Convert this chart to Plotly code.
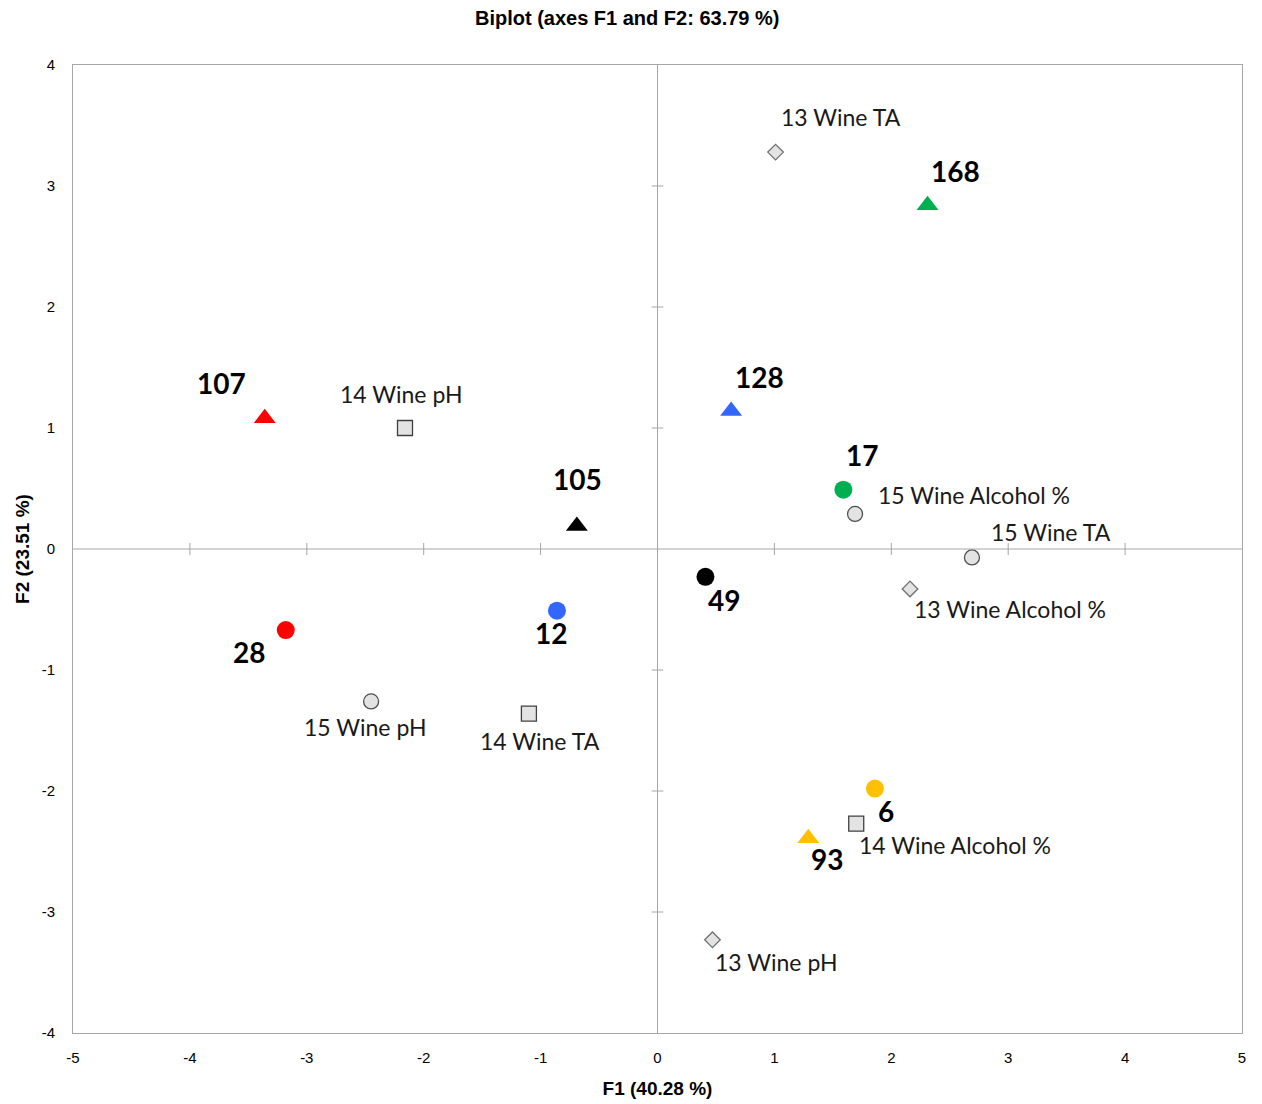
import plotly.graph_objects as go

# Observations (sample scores on F1/F2)
sample_ids = ["107", "105", "128", "168", "17", "49", "12", "28", "6", "93"]
sample_f1 = [-3.36, -0.69, 0.63, 2.31, 1.59, 0.41, -0.86, -3.18, 1.86, 1.29]
sample_f2 = [1.08, 0.19, 1.14, 2.84, 0.49, -0.23, -0.51, -0.67, -1.98, -2.39]
sample_shape = ["triangle-up", "triangle-up", "triangle-up", "triangle-up", "circle",
                "circle", "circle", "circle", "circle", "triangle-up"]
sample_color = ["#ff0000", "#000000", "#3366ff", "#00b050", "#00b050",
                "#000000", "#3366ff", "#ff0000", "#ffc000", "#ffc000"]

# Variables (loadings on F1/F2)
var_names = ["14 Wine pH", "13 Wine TA", "15 Wine Alcohol %", "15 Wine TA",
             "13 Wine Alcohol %", "15 Wine pH", "14 Wine TA", "14 Wine Alcohol %",
             "13 Wine pH"]
var_f1 = [-2.16, 1.01, 1.69, 2.69, 2.16, -2.45, -1.10, 1.70, 0.47]
var_f2 = [1.00, 3.28, 0.29, -0.07, -0.33, -1.26, -1.36, -2.27, -3.23]

x_ticks = [-5, -4, -3, -2, -1, 0, 1, 2, 3, 4, 5]
y_ticks = [-4, -3, -2, -1, 0, 1, 2, 3, 4]

# Label placement (pixel offsets from each marker, anchor side)
sample_label_pos = {
    "107": (-43, 35, "center"), "105": (1, 47, "center"), "128": (28, 34, "center"),
    "168": (28, 34, "center"), "17": (19, 35, "center"), "49": (19, -23, "center"),
    "12": (-6, -22, "center"), "28": (-37, -22, "center"), "6": (11, -22, "center"),
    "93": (19, -21, "center"),
}
var_label_pos = {
    "14 Wine pH": (-4, 34, "center"), "13 Wine TA": (65, 35, "center"),
    "15 Wine Alcohol %": (21, 19, "left"), "15 Wine TA": (17, 25, "left"),
    "13 Wine Alcohol %": (2, -20, "left"), "15 Wine pH": (-6, -26, "center"),
    "14 Wine TA": (11, -27, "center"), "14 Wine Alcohol %": (1, -21, "left"),
    "13 Wine pH": (1, -22, "left"),
}


def var_symbol(name):
    if name.startswith("13"):
        return "diamond"
    if name.startswith("14"):
        return "square"
    return "circle"


def var_size(name):
    return {"diamond": 12, "square": 15, "circle": 15}[var_symbol(name)]


def var_line(name):
    return {"diamond": "#707070", "square": "#404040", "circle": "#505050"}[var_symbol(name)]


fig = go.Figure()

fig.add_trace(go.Scatter(
    x=var_f1, y=var_f2, mode="markers",
    marker=dict(symbol=[var_symbol(n) for n in var_names],
                size=[var_size(n) for n in var_names],
                color="#e3e3e3", opacity=1,
                line=dict(color=[var_line(n) for n in var_names], width=1.3)),
    hoverinfo="text", text=var_names, showlegend=False,
))

fig.add_trace(go.Scatter(
    x=sample_f1, y=sample_f2, mode="markers",
    marker=dict(symbol=sample_shape,
                size=[18 if s == "circle" else 19 for s in sample_shape],
                color=sample_color, opacity=1, line=dict(width=0)),
    hoverinfo="text", text=sample_ids, showlegend=False,
))

label_font = "Lato, 'Open Sans', sans-serif"
annotations = []
for sid, x, y in zip(sample_ids, sample_f1, sample_f2):
    dx, dy, anc = sample_label_pos[sid]
    annotations.append(dict(x=x, y=y, text=f"<b>{sid}</b>", showarrow=False,
                            xshift=dx, yshift=dy, xanchor=anc, yanchor="middle",
                            font=dict(family=label_font, size=28, color="#000000")))
for name, x, y in zip(var_names, var_f1, var_f2):
    dx, dy, anc = var_label_pos[name]
    annotations.append(dict(x=x, y=y, text=name, showarrow=False,
                            xshift=dx, yshift=dy, xanchor=anc, yanchor="middle",
                            font=dict(family=label_font, size=23, color="#1a1a1a")))

# Axes crossing at the origin, with tick marks on both sides
axis_gray = "#a6a6a6"
shapes = [
    dict(type="line", xref="x", yref="y", x0=0, x1=0, y0=-4, y1=4,
         line=dict(color=axis_gray, width=1)),
    dict(type="line", xref="x", yref="y", x0=-5, x1=5, y0=0, y1=0,
         line=dict(color=axis_gray, width=1)),
]
for v in x_ticks:
    if v in (-5, 0, 5):
        continue
    shapes.append(dict(type="line", xref="x", yref="y", x0=v, x1=v, y0=-0.05, y1=0.05,
                       line=dict(color=axis_gray, width=1)))
for v in y_ticks:
    if v in (-4, 0, 4):
        continue
    shapes.append(dict(type="line", xref="x", yref="y", x0=-0.05, x1=0.05, y0=v, y1=v,
                       line=dict(color=axis_gray, width=1)))

narrow = "'Liberation Sans Narrow', 'Arial Narrow', 'Liberation Sans', sans-serif"

fig.update_layout(
    width=1262, height=1104,
    margin=dict(l=73, r=20, t=65, b=71),
    paper_bgcolor="white", plot_bgcolor="white",
    title=dict(text="<b>Biplot (axes F1 and F2: 63.79 %)</b>", x=0.497, xanchor="center",
               y=0.984, yanchor="middle",
               font=dict(family=narrow, size=20, color="#000000")),
    xaxis=dict(range=[-5, 5], tickvals=x_ticks, ticktext=[str(v) for v in x_ticks],
               showgrid=False, zeroline=False, automargin=False,
               showline=True, linecolor=axis_gray, linewidth=1, mirror=True,
               ticks="", ticklabelstandoff=11,
               tickfont=dict(family=narrow, size=15, color="#000000"),
               title=dict(text="<b>F1 (40.28 %)</b>", standoff=16,
                          font=dict(family=narrow, size=19, color="#000000"))),
    yaxis=dict(range=[-4, 4], tickvals=y_ticks, ticktext=[str(v) for v in y_ticks],
               showgrid=False, zeroline=False, automargin=False,
               showline=True, linecolor=axis_gray, linewidth=1, mirror=True,
               ticks="", ticklabelstandoff=14,
               tickfont=dict(family=narrow, size=15, color="#000000"),
               title=dict(text="<b>F2 (23.51 %)</b>", standoff=7,
                          font=dict(family=narrow, size=19, color="#000000"))),
    annotations=annotations,
    shapes=shapes,
)

fig.write_html("out.html")
